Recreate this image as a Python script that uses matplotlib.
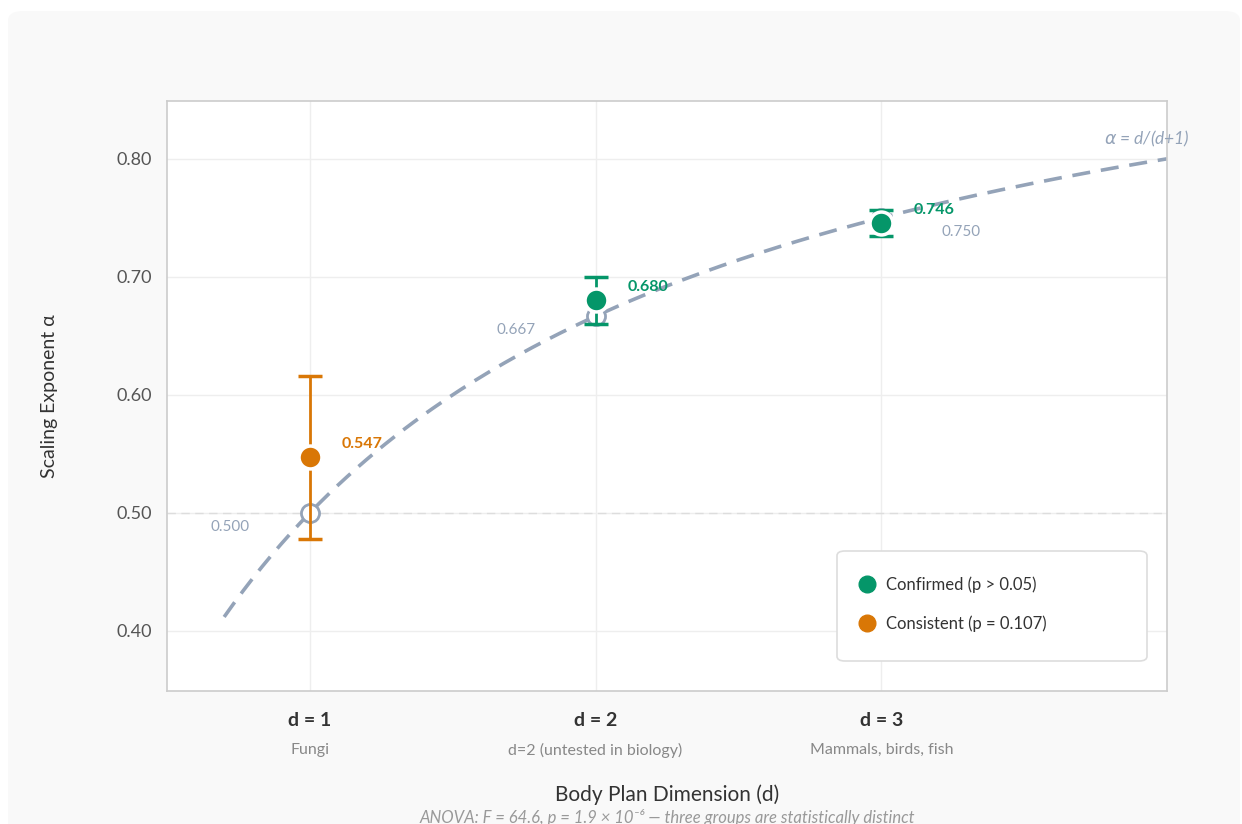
import numpy as np
import matplotlib
matplotlib.use("Agg")
import matplotlib.pyplot as plt
from matplotlib.patches import FancyBboxPatch
from matplotlib.lines import Line2D
import matplotlib.transforms as mtransforms

plt.rcParams['font.family'] = ['Lato', 'DejaVu Sans']

# data
dims = [1, 2, 3]
tick_names = ["d = 1", "d = 2", "d = 3"]
groups = ["Fungi", "d=2 (untested in biology)", "Mammals, birds, fish"]
observed = [0.547, 0.680, 0.746]
errors = [0.069, 0.020, 0.011]
predicted = [0.500, 0.667, 0.750]
status = ["Consistent", "Confirmed", "Confirmed"]

GREEN = "#059669"
ORANGE = "#d97706"
SLATE = "#94a3b8"
colors = {"Confirmed": GREEN, "Consistent": ORANGE}

W, H = 1242, 824
fig = plt.figure(figsize=(W / 100, H / 100), dpi=100)
fig.patch.set_facecolor("white")

# rounded card background
card = FancyBboxPatch((8 / W, -0.1), (W - 10) / W, 1.1 - 11 / H,
                      boxstyle="round,pad=0,rounding_size=0.012",
                      transform=fig.transFigure, facecolor="#f9f9f9",
                      edgecolor="none", zorder=-5)
fig.patches.append(card)

ax = fig.add_axes([167 / W, 1 - 691 / H, 1000 / W, 590 / H])
ax.set_facecolor("white")
ax.set_xlim(0.5, 4.0)
ax.set_ylim(0.349, 0.849)

for s in ax.spines.values():
    s.set_color("#cccccc")
    s.set_linewidth(1.2)

yt = [0.4, 0.5, 0.6, 0.7, 0.8]
ax.set_yticks(yt)
ax.set_yticklabels([f"{v:.2f}" for v in yt])
ax.tick_params(axis="y", length=0, pad=11, labelsize=13, labelcolor="#555555")
ax.set_xticks(dims)
ax.set_xticklabels(tick_names, fontsize=14, fontweight="bold", color="#333333")
ax.tick_params(axis="x", length=0, pad=15)
ax.grid(True, color="#eeeeee", linewidth=1)
ax.set_axisbelow(True)

# theory curve
xc = np.linspace(0.7, 4.0, 200)
ax.plot(xc, xc / (xc + 1), ls=(0, (5, 3)), color=SLATE, lw=2.6, zorder=2)
ax.axhline(0.5, color="#dddddd", lw=1, ls=(0, (6, 4)), zorder=1)
ax.text(4.08, 0.808, r"$\alpha$ = d/(d+1)", fontsize=12.5, style="italic",
        color=SLATE, ha="right", va="bottom")

# predicted points (hollow)
ax.plot(dims, predicted, "o", ms=13, mfc="white", mec=SLATE, mew=2,
        ls="none", zorder=3)
offs = mtransforms.offset_copy
for d, p in zip(dims, predicted):
    if d < 3:
        tr = offs(ax.transData, fig=fig, x=-60, y=-14, units="dots")
        ha = "right"
    else:
        tr = offs(ax.transData, fig=fig, x=60, y=-14, units="dots")
        ha = "left"
    ax.text(d, p, f"{p:.3f}", transform=tr, ha=ha, va="center",
            fontsize=11, color=SLATE)

# observed with error bars
for d, o, e, st in zip(dims, observed, errors, status):
    c = colors[st]
    ax.errorbar(d, o, yerr=e, fmt="o", color=c, ms=16.5, mfc=c, mec="white",
                mew=2.5, elinewidth=2, capsize=8.5, capthick=2, zorder=4)
    tr = offs(ax.transData, fig=fig, x=32, y=13, units="dots")
    ax.text(d, o, f"{o:.3f}", transform=tr, ha="left", va="center",
            fontsize=11.5, fontweight="bold", color=c, zorder=5)

# group names under ticks
btr = mtransforms.blended_transform_factory(ax.transData, ax.transAxes)
for d, g in zip(dims, groups):
    ax.text(d, -59 / 590, g, transform=btr, ha="center", va="center",
            fontsize=11.5, color="#888888")

ax.text(0.5, -104 / 590, "Body Plan Dimension (d)", transform=ax.transAxes,
        ha="center", va="center", fontsize=15, color="#333333")
ax.text(0.5, -127 / 590,
        "ANOVA: F = 64.6, p = 1.9 × 10⁻⁶ — three groups are statistically distinct",
        transform=ax.transAxes, ha="center", va="center", fontsize=12,
        style="italic", color="#999999")
ax.set_ylabel("Scaling Exponent α", fontsize=14, color="#333333")
ax.yaxis.set_label_coords(-109 / 1000, 0.5)

# legend: fixed-size rounded box with entries inside
box = FancyBboxPatch((670 / 1000, 30 / 590), 310 / 1000, 110 / 590,
                     boxstyle="round,pad=0,rounding_size=0.008",
                     transform=ax.transAxes, facecolor="white",
                     edgecolor="#dddddd", lw=1.2, zorder=6)
ax.add_patch(box)
handles = [Line2D([], [], marker="o", ls="none", ms=12, color=GREEN,
                  label="Confirmed (p > 0.05)"),
           Line2D([], [], marker="o", ls="none", ms=12, color=ORANGE,
                  label="Consistent (p = 0.107)")]
leg = ax.legend(handles=handles, loc="upper left",
                bbox_to_anchor=(692 / 1000, (691 - 576) / 590), fontsize=12,
                frameon=False, borderpad=0, borderaxespad=0,
                labelspacing=1.35, handletextpad=0.6, handlelength=1.0)
leg.set_zorder(7)
for t in leg.get_texts():
    t.set_color("#333333")

fig.savefig("out.png", dpi=100, facecolor=fig.get_facecolor())
